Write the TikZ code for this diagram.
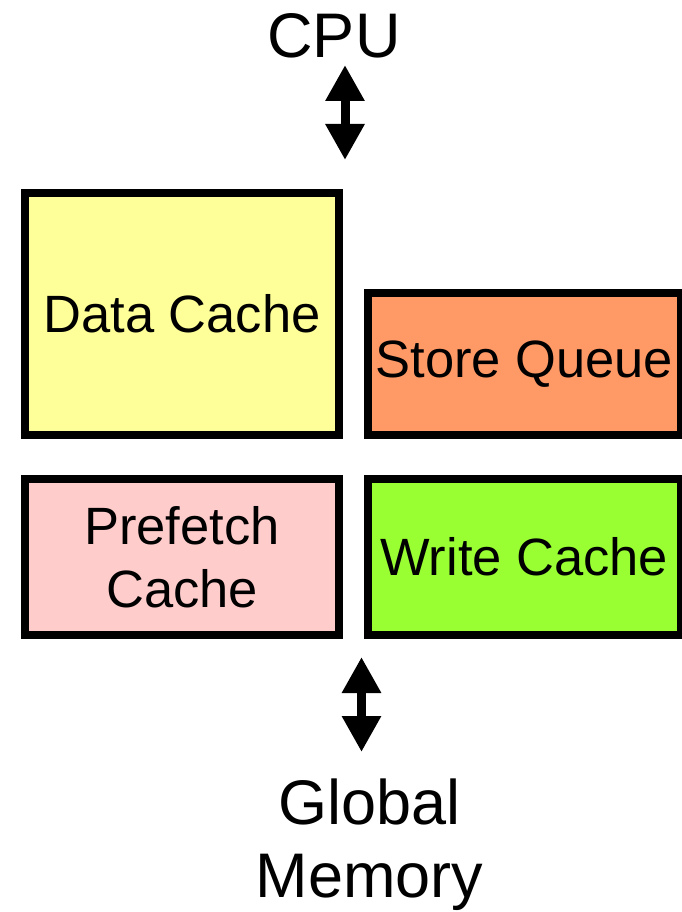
\documentclass[tikz,border=0pt]{standalone}
\usepackage{fontspec}
\setmainfont{Liberation Sans}
\usetikzlibrary{arrows.meta}
\definecolor{dcyellow}{HTML}{FFFF99}
\definecolor{sqorange}{HTML}{FF9966}
\definecolor{pfpink}{HTML}{FFCCCC}
\definecolor{wcgreen}{HTML}{99FF33}
\tikzset{
  unit box/.style={draw=black, line width=8pt, inner sep=0pt, align=center,
    font=\fontsize{52.5}{63}\selectfont},
  big label/.style={inner sep=0pt, align=center, font=\fontsize{63}{73}\selectfont},
  dbl arrow/.style={line width=9pt,
    {Triangle[length=36pt,width=37pt]}-{Triangle[length=36pt,width=37pt]}},
}
\begin{document}
\begin{tikzpicture}[x=1pt,y=-1pt]
  \useasboundingbox (0,0) rectangle (681,912);

  % labels for the two ends of the memory path
  \node[big label, anchor=base] (cpu) at (334,58) {CPU};
  \node[big label] (mem) at (369.5,845) {Global\\Memory};

  % the four storage units
  \node[unit box, fill=dcyellow, minimum width=314pt, minimum height=241.5pt]
    (dc) at (182,313.75) {Data Cache};
  \node[unit box, fill=sqorange, minimum width=313.5pt, minimum height=142.5pt]
    (sq) at (524.25,363.75) {Store Queue};
  \node[unit box, fill=pfpink, minimum width=314pt, minimum height=156.5pt]
    (pf) at (182,556.75) {Prefetch\\Cache};
  \node[unit box, fill=wcgreen, minimum width=313.5pt, minimum height=156.5pt]
    (wc) at (524.25,556.75) {Write Cache};

  % bidirectional transfers
  \coordinate (cpuA) at (345,65);
  \coordinate (cpuB) at (345,160);
  \coordinate (memA) at (361.5,657);
  \coordinate (memB) at (361.5,752);
  \draw[dbl arrow] (cpuA) -- (cpuB);
  \draw[dbl arrow] (memA) -- (memB);
\end{tikzpicture}
\end{document}
